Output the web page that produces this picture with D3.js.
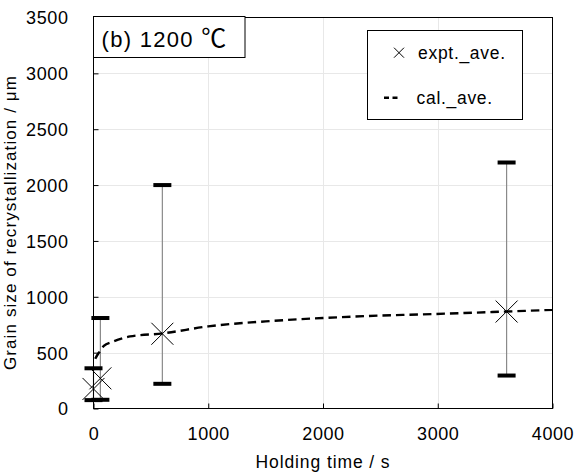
<!DOCTYPE html>
<html>
<head>
<meta charset="utf-8">
<script src="https://cdn.jsdelivr.net/npm/d3@7"></script>
<style>
  html, body { margin: 0; padding: 0; background: #fff; }
  svg { display: block; }
  text { font-family: "Liberation Sans", Arial, sans-serif; fill: #000; }
</style>
</head>
<body>
<svg id="chart" width="576" height="472"></svg>
<script>
// Measured grain sizes (average with min / max range) at each holding time
const exptTime = [0, 60, 600, 3600];
const exptAve  = [175, 270, 669, 868];
const exptMax  = [360, 810, 2000, 2202];
const exptMin  = [75, 78, 221, 295];

// Calculated average grain size curve
const calTime = [15, 40, 60, 90, 160, 320, 600, 1000, 1500, 2000, 2500, 2850, 3600, 4000];
const calAve  = [445, 490, 515, 560, 595, 645, 672, 735, 780, 810, 832, 842, 868, 883];

const xTicks = [0, 1000, 2000, 3000, 4000];
const yTicks = [0, 500, 1000, 1500, 2000, 2500, 3000, 3500];

const titleText = "(b) 1200 ";
const titleUnit = "℃";
const xLabel = "Holding time / s";
const yLabel = "Grain size of recrystallization / μm";
const legendExpt = "expt._ave.";
const legendCal = "cal._ave.";

const svg = d3.select("#chart");
const L = 93.5, R = 552.5, T = 17.5, B = 408.5;

const x = d3.scaleLinear().domain([0, 4000]).range([L, R]);
const y = d3.scaleLinear().domain([0, 3500]).range([B, T]);

// light grid
const grid = svg.append("g").attr("stroke", "#e8e8e8").attr("stroke-width", 1);
grid.selectAll("line.h").data(yTicks.slice(1, -1)).join("line")
  .attr("x1", L).attr("x2", R)
  .attr("y1", d => Math.round(y(d)) + 0.5).attr("y2", d => Math.round(y(d)) + 0.5);
grid.selectAll("line.v").data(xTicks.slice(1, -1)).join("line")
  .attr("y1", T).attr("y2", B)
  .attr("x1", d => Math.round(x(d)) + 0.5).attr("x2", d => Math.round(x(d)) + 0.5);

// axes with inward ticks
const fontTick = "18px";
const xAxis = svg.append("g").attr("transform", `translate(0,${B})`)
  .call(d3.axisBottom(x).tickValues(xTicks).tickSize(-5).tickPadding(0).tickFormat(d3.format("d")));
xAxis.select(".domain").remove();
xAxis.selectAll(".tick line").attr("stroke", "#000");
xAxis.selectAll(".tick text").attr("y", 31).attr("dy", null)
  .style("font-size", fontTick).style("letter-spacing", "0.6px")
  .attr("font-family", null);

const yAxis = svg.append("g").attr("transform", `translate(${L},0)`)
  .call(d3.axisLeft(y).tickValues(yTicks).tickSize(-5).tickPadding(0).tickFormat(d3.format("d")));
yAxis.select(".domain").remove();
yAxis.selectAll(".tick line").attr("stroke", "#000");
yAxis.selectAll(".tick text").attr("x", -25).attr("dy", "0.36em")
  .style("font-size", fontTick).style("letter-spacing", "0.6px")
  .attr("font-family", null);

// error bars
const pts = exptTime.map((t, i) => ({ t, ave: exptAve[i], max: exptMax[i], min: exptMin[i] }));
const eb = svg.append("g");
eb.selectAll("line").data(pts).join("line")
  .attr("x1", d => x(d.t)).attr("x2", d => x(d.t))
  .attr("y1", d => y(d.max)).attr("y2", d => y(d.min))
  .attr("stroke", "#8a8a8a").attr("stroke-width", 1.2);
const caps = pts.flatMap(d => [d.max, d.min].map(v => ({ t: d.t, v })));
eb.selectAll("rect").data(caps).join("rect")
  .attr("x", d => x(d.t) - 9).attr("width", 18)
  .attr("y", d => y(d.v) - 2).attr("height", 4)
  .attr("fill", "#000");

// calculated curve
const line = d3.line().x((d, i) => x(calTime[i])).y(d => y(d)).curve(d3.curveMonotoneX);
svg.append("path").datum(calAve)
  .attr("d", line)
  .attr("fill", "none").attr("stroke", "#000")
  .attr("stroke-width", 2.4).attr("stroke-dasharray", "8.5,5");

// X markers
function cross(g, cx, cy, h) {
  g.append("path")
    .attr("d", `M${cx - h},${cy - h}L${cx + h},${cy + h}M${cx - h},${cy + h}L${cx + h},${cy - h}`)
    .attr("stroke", "#000").attr("stroke-width", 1).attr("fill", "none");
}
const mk = svg.append("g");
pts.forEach(d => cross(mk, x(d.t), y(d.ave), 11));

// plot frame
svg.append("rect").attr("x", L).attr("y", T).attr("width", R - L).attr("height", B - T)
  .attr("fill", "none").attr("stroke", "#000").attr("stroke-width", 1);

// title box
svg.append("rect").attr("x", 93.5).attr("y", 16.5).attr("width", 151.5).attr("height", 41)
  .attr("fill", "#fff").attr("stroke", "#000");
const tt = svg.append("text").attr("x", 101.5).attr("y", 46.5)
  .style("font-size", "22px").style("letter-spacing", "1.3px");
tt.append("tspan").text(titleText);
tt.append("tspan").style("font-family", "'Noto Sans CJK JP', sans-serif")
  .style("letter-spacing", "0").style("font-size", "25px").text(titleUnit);

// legend
const lg = svg.append("g");
lg.append("rect").attr("x", 367.5).attr("y", 30.5).attr("width", 155).attr("height", 89)
  .attr("fill", "#fff").attr("stroke", "#000");
cross(lg, 399, 52.7, 5);
lg.append("text").attr("x", 418).attr("y", 58.5)
  .style("font-size", "17.5px").style("letter-spacing", "0.7px").text(legendExpt);
lg.append("line").attr("x1", 384).attr("x2", 397.5).attr("y1", 97.7).attr("y2", 97.7)
  .attr("stroke", "#000").attr("stroke-width", 2.4).attr("stroke-dasharray", "5,3.5");
lg.append("text").attr("x", 416.5).attr("y", 103.5)
  .style("font-size", "17.5px").style("letter-spacing", "0.7px").text(legendCal);

// axis titles
svg.append("text").attr("x", (L + R) / 2).attr("y", 468).attr("text-anchor", "middle")
  .style("font-size", "17.5px").style("letter-spacing", "0.9px").text(xLabel);
svg.append("text").attr("transform", `translate(16,${(62 + 383) / 2}) rotate(-90)`)
  .attr("text-anchor", "middle")
  .style("font-size", "17px").style("letter-spacing", "1.1px").text(yLabel);
</script>
</body>
</html>
